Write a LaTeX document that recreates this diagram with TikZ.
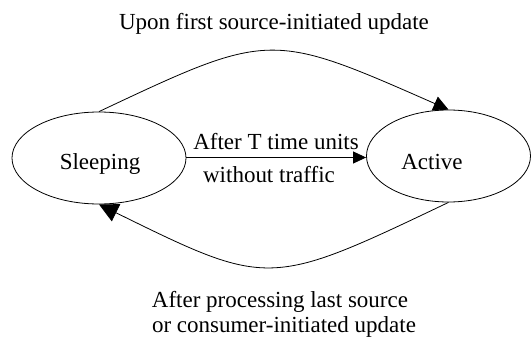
\documentclass[tikz,border=0pt]{standalone}
\usepackage{fontspec}
\setmainfont{Liberation Serif}
\usetikzlibrary{shapes.geometric,arrows.meta}
\begin{document}
\begin{tikzpicture}[x=1pt,y=-1pt,
  state/.style={draw,ellipse,line width=0.8pt,minimum width=170pt,minimum height=92pt,inner sep=0pt},
  txt/.style={anchor=base,inner sep=0pt,font=\fontsize{23}{25}\selectfont},
  conn/.style={line width=0.8pt}]
\useasboundingbox (0,0) rectangle (531,340);

% the two states
\node[state,minimum width=174pt] (slp) at (99,158) {};
\node[state,minimum width=164pt] (act) at (448.5,156) {};
\node[txt] (slpt) at (100,169) {Sleeping};
\node[txt] (actt) at (432,169) {Active};

% transitions
\draw[conn,-{Triangle[length=13pt,width=12pt]}] (slp.east |- 0,157.5) -- (act.west |- 0,157.5);
\draw[conn,-{Triangle[length=15pt,width=15pt]}] (slp.north) .. controls (270,31) .. (act.north);
\draw[conn,-{Triangle[length=19pt,width=19pt]}] (act.south) .. controls (269,288) .. (slp.south);

% transition labels
\node[txt] (lup) at (274,30) {Upon first source-initiated update};
\node[txt] (lt1) at (276,149) {After T time units};
\node[txt] (lt2) at (269,182) {without traffic};
\node[txt] (lb1) at (280,307) {After processing last source};
\node[txt] (lb2) at (284,332.5) {or consumer-initiated update};
\end{tikzpicture}
\end{document}
